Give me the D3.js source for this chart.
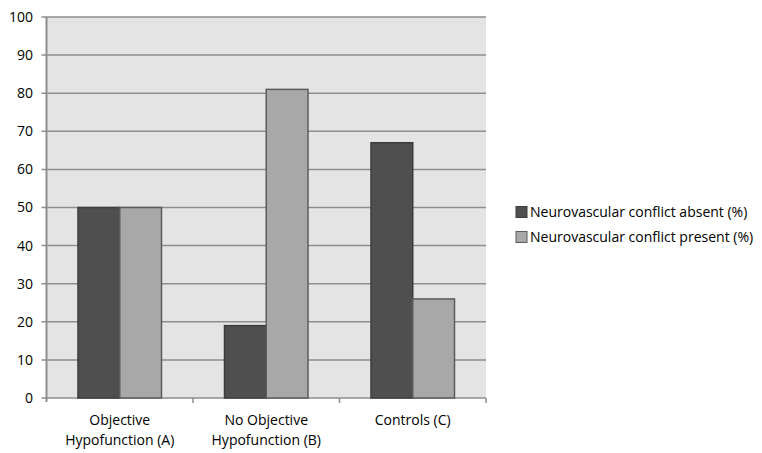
<!DOCTYPE html>
<html>
<head>
<meta charset="utf-8">
<script src="https://cdn.jsdelivr.net/npm/d3@7"></script>
<style>
  body { margin: 0; background: #fff; }
  text { font-family: "Open Sans", Lato, sans-serif; fill: #000; }
</style>
</head>
<body>
<svg id="chart" width="762" height="453"></svg>
<script>
// categories and values
var categories = [["Objective", "Hypofunction (A)"], ["No Objective", "Hypofunction (B)"], ["Controls (C)"]];
var categoryKeys = ["A", "B", "C"];
var seriesNames = ["Neurovascular conflict absent (%)", "Neurovascular conflict present (%)"];
var absentValues = [50, 19, 67];
var presentValues = [50, 81, 26];
var yTicks = [0, 10, 20, 30, 40, 50, 60, 70, 80, 90, 100];

var fills = ["#4f4f4f", "#a8a8a8"];
var strokes = ["#3c3c3c", "#5c5c5c"];

var svg = d3.select("#chart");
var plotLeft = 46.5, plotRight = 486, plotTop = 17, plotBottom = 398;

var x = d3.scaleBand().domain(categoryKeys).range([plotLeft, plotRight]).paddingInner(0.43).paddingOuter(0.215);
var x1 = d3.scaleBand().domain([0, 1]).range([0, x.bandwidth()]);
var y = d3.scaleLinear().domain([0, 100]).range([plotBottom, plotTop]);

// plot background
svg.append("rect")
  .attr("x", plotLeft).attr("y", plotTop)
  .attr("width", plotRight - plotLeft).attr("height", plotBottom - plotTop)
  .attr("fill", "#e4e4e4");

// gridlines + y ticks
svg.selectAll(".grid").data(yTicks).enter()
  .append("line")
  .attr("x1", plotLeft - 5).attr("x2", plotRight)
  .attr("y1", function (d) { return y(d); })
  .attr("y2", function (d) { return y(d); })
  .attr("stroke", "#8e8e8e").attr("stroke-width", 1.5);

svg.selectAll(".ylab").data(yTicks).enter()
  .append("text")
  .attr("x", 33).attr("y", function (d) { return y(d); })
  .attr("dy", "0.35em")
  .attr("text-anchor", "end")
  .attr("font-size", 14)
  .text(function (d) { return d; });

// bars
var rows = categoryKeys.map(function (k, i) {
  return { key: k, values: [absentValues[i], presentValues[i]] };
});

var groups = svg.selectAll(".grp").data(rows).enter()
  .append("g")
  .attr("transform", function (d) { return "translate(" + x(d.key) + ",0)"; });

groups.selectAll("rect").data(function (d) { return d.values; }).enter()
  .append("rect")
  .attr("x", function (d, i) { return x1(i); })
  .attr("y", function (d) { return y(d); })
  .attr("width", x1.bandwidth())
  .attr("height", function (d) { return y(0) - y(d); })
  .attr("fill", function (d, i) { return fills[i]; })
  .attr("stroke", function (d, i) { return strokes[i]; })
  .attr("stroke-width", 1.5);

// y axis line
svg.append("line")
  .attr("x1", plotLeft).attr("x2", plotLeft)
  .attr("y1", plotTop).attr("y2", plotBottom + 4)
  .attr("stroke", "#8e8e8e").attr("stroke-width", 2);

// category tick marks
var bounds = categoryKeys.map(function (k) { return x(k) - x.step() * 0.215 + x.step(); });
svg.selectAll(".xtick").data(bounds).enter()
  .append("line")
  .attr("x1", function (d) { return d; }).attr("x2", function (d) { return d; })
  .attr("y1", plotBottom).attr("y2", plotBottom + 5)
  .attr("stroke", "#8e8e8e").attr("stroke-width", 1.5);

// x labels
svg.selectAll(".xlab").data(rows).enter()
  .append("text")
  .attr("text-anchor", "middle")
  .attr("font-size", 14)
  .attr("x", function (d) { return x(d.key) + x.bandwidth() / 2; })
  .attr("y", 425)
  .each(function (d, i) {
    var t = d3.select(this);
    categories[i].forEach(function (line, j) {
      t.append("tspan")
        .attr("x", x(d.key) + x.bandwidth() / 2)
        .attr("dy", j === 0 ? 0 : 20)
        .text(line);
    });
  });

// legend
var legend = svg.selectAll(".leg").data(seriesNames).enter()
  .append("g")
  .attr("transform", function (d, i) { return "translate(516," + (212 + i * 25) + ")"; });

legend.append("rect")
  .attr("x", 0).attr("y", -5.5)
  .attr("width", 11).attr("height", 11)
  .attr("fill", function (d, i) { return fills[i]; })
  .attr("stroke", function (d, i) { return strokes[i]; })
  .attr("stroke-width", 1);

legend.append("text")
  .attr("x", 14).attr("y", 0).attr("dy", "0.35em")
  .attr("font-size", 14)
  .text(function (d) { return d; });
</script>
</body>
</html>
